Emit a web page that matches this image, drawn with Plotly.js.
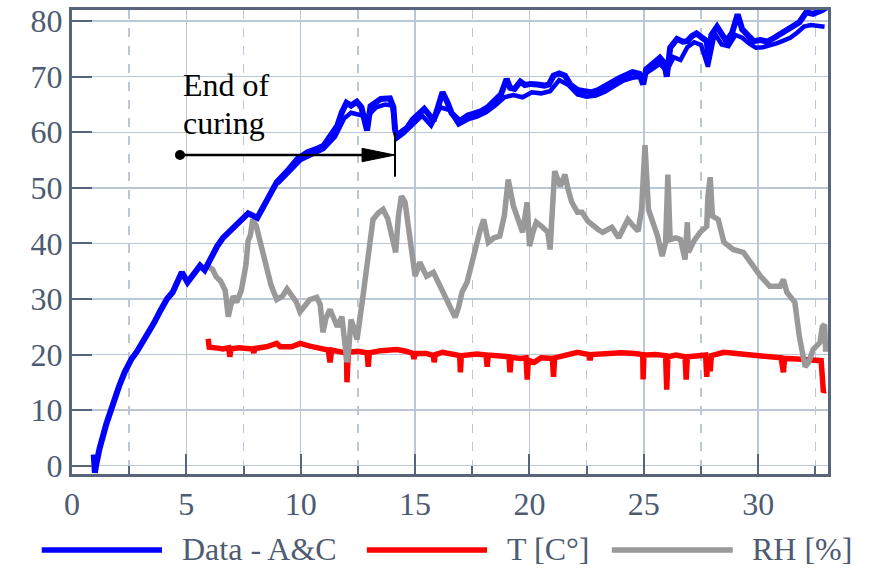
<!DOCTYPE html>
<html><head><meta charset="utf-8">
<script src="https://cdn.plot.ly/plotly-3.0.1.min.js"></script>
<style>html,body{margin:0;padding:0;background:#fff}</style>
</head><body><div id="chart" style="width:879px;height:569px"></div>
<script>
// Data - A&C (upper sensor trace)
const blueAx = [0.95, 1.0, 1.05, 1.2, 1.5, 1.8, 2.05, 2.3, 2.6, 2.85,
 3.1, 3.3, 3.6, 3.85, 4.15, 4.4, 4.6, 4.8, 5.05, 5.3,
 5.6, 5.8, 6.1, 6.35, 6.6, 6.85, 7.1, 7.4, 7.7, 8.1,
 8.3, 8.5, 8.75, 8.95, 9.2, 9.45, 9.85, 10.3, 10.7, 11.0,
 11.3, 11.6, 11.8, 12.0, 12.2, 12.45, 12.65, 12.8, 12.9, 13.05,
 13.3, 13.5, 13.9, 14.05, 14.12, 14.2, 14.45, 14.65, 14.9, 15.15,
 15.4, 15.6, 15.8, 16.0, 16.2, 16.4, 16.6, 16.95, 17.3, 17.6,
 17.9, 18.2, 18.45, 18.75, 19.0, 19.15, 19.35, 19.6, 19.8, 20.05,
 20.35, 20.65, 20.85, 21.05, 21.3, 21.55, 21.8, 22.1, 22.4, 22.7,
 23.0, 23.3, 23.6, 23.9, 24.2, 24.5, 24.8, 24.97, 25.1, 25.3,
 25.5, 25.7, 25.9, 26.0, 26.15, 26.45, 26.7, 26.9, 27.1, 27.3,
 27.55, 27.75, 27.82, 27.95, 28.2, 28.4, 28.6, 28.85, 29.1, 29.3,
 29.5, 29.8, 30.1, 30.4, 30.7, 31.1, 31.4, 31.8, 32.1, 32.4,
 32.8, 33.0];
const blueAy = [2, -1.3, 0, 3, 7.5, 11.5, 14.2, 16.8, 19.2, 20.6,
 22.3, 23.4, 25.8, 27.8, 30, 31.2, 33, 34.8, 33, 34.3,
 36, 35.2, 37.8, 39.5, 41, 42, 43.3, 44.4, 45.4, 44.6,
 46.2, 48, 49.5, 51, 52, 53.2, 55.2, 56.4, 57, 57.6,
 59.4, 61.2, 63.6, 65.3, 64.8, 65.5, 64.5, 62.5, 60.3, 64.7,
 65.4, 66, 66.1, 64.5, 60.5, 59.3, 60.2, 60.8, 62.3, 63.3,
 64.2, 63.2, 62, 64.5, 67.2, 65.5, 63.4, 62, 63, 63.4,
 63.8, 64.6, 65.5, 66.8, 69.6, 68, 67.8, 69.1, 68.5, 68.7,
 68.6, 68.4, 68.6, 70.2, 70.6, 70.2, 68.5, 67.6, 67.4, 67.2,
 67.6, 68.2, 69, 69.7, 70.2, 70.8, 70.5, 68.6, 71.3, 72,
 72.6, 73.4, 72.4, 70, 75.2, 76.8, 76.3, 76.4, 77.3, 77.8,
 77, 76.4, 73.2, 77.5, 79, 77.6, 76.4, 77.8, 81.2, 78.5,
 77.6, 76.4, 76.6, 76.3, 77, 78, 78.7, 79.8, 81.6, 81.3,
 82, 82.5];
// Data - A&C (lower sensor trace)
const blueCx = [9.0, 9.5, 10.0, 10.5, 11.0, 11.5, 11.9, 12.2, 12.5, 12.9,
 13.3, 13.7, 14.0, 14.2, 14.5, 14.9, 15.3, 15.7, 16.1, 16.5,
 16.9, 17.3, 17.7, 18.1, 18.5, 18.9, 19.3, 19.7, 20.1, 20.5,
 20.9, 21.3, 21.7, 22.1, 22.5, 22.9, 23.3, 23.7, 24.1, 24.5,
 24.9, 25.3, 25.7, 26.0, 26.3, 26.6, 26.9, 27.2, 27.5, 27.8,
 28.1, 28.4, 28.7, 29.0, 29.3, 29.6, 29.9, 30.2, 30.5, 30.8,
 31.1, 31.4, 31.7, 32.0, 32.3, 32.6, 32.9];
const blueCy = [50.8, 53, 55, 56, 57, 59.2, 62.5, 63.5, 63.2, 62.8,
 64.5, 65, 64.8, 58.9, 59.8, 61.5, 63, 61.2, 64.5, 64,
 61.4, 62.3, 62.8, 63.6, 64.8, 66.3, 66.7, 66.3, 67.2, 67,
 67.4, 69.4, 68.5, 66.8, 66.4, 66.6, 67.3, 68.3, 69.3, 69.8,
 70, 71.2, 72.3, 71, 73.5, 73, 75.3, 76.2, 75.7, 71.8,
 77.8, 75.8, 75.5, 77.5, 77, 76, 75.2, 75.3, 75.6, 76,
 76.5, 77, 77.9, 79, 79.3, 79.1, 79];
// T [C°]
const tempX = [5.95, 6.0, 6.3, 6.6, 6.85, 6.9, 6.95, 7.3, 7.9, 7.95,
 8.0, 8.5, 8.95, 9.1, 9.6, 9.97, 10.4, 10.97, 11.2, 11.28,
 11.35, 11.85, 12.0, 12.02, 12.08, 12.5, 12.9, 12.95, 13.0, 13.5,
 14.2, 14.6, 14.9, 14.95, 15.0, 15.5, 15.8, 15.83, 15.88, 16.2,
 16.6, 16.95, 16.98, 17.02, 17.7, 18.1, 18.15, 18.2, 18.6, 19.1,
 19.15, 19.2, 19.6, 19.85, 19.9, 19.95, 20.2, 20.5, 21.0, 21.05,
 21.1, 21.6, 22.1, 22.6, 22.65, 22.7, 23.2, 24.0, 24.6, 24.95,
 24.97, 25.0, 25.5, 25.95, 26.0, 26.05, 26.4, 26.8, 26.85, 26.9,
 27.4, 27.7, 27.75, 27.8, 27.9, 27.95, 28.5, 29.0, 29.6, 30.3,
 31.0, 31.1, 31.15, 31.7, 32.2, 32.6, 32.75, 32.85, 32.9];
const tempY = [22.8, 21.3, 21.2, 21.0, 21.2, 19.6, 21.0, 21.2, 21.0, 20.3,
 21.1, 21.4, 22.0, 21.4, 21.4, 22.0, 21.5, 21.1, 20.8, 18.6,
 20.8, 20.4, 20.2, 15.0, 20.4, 20.6, 20.3, 17.8, 20.3, 20.7,
 20.9, 20.6, 20.2, 19.2, 20.2, 20.2, 19.8, 18.6, 20.0, 20.4,
 20.2, 19.8, 16.8, 19.8, 20.1, 19.9, 17.8, 19.9, 19.8, 19.6,
 16.8, 19.5, 19.3, 19.4, 15.5, 19.0, 18.6, 19.4, 19.3, 16.0,
 19.4, 19.8, 20.4, 20.0, 19.0, 20.0, 20.2, 20.3, 20.2, 20.0,
 15.5, 19.9, 20.0, 19.8, 13.7, 19.6, 19.9, 19.6, 15.5, 19.6,
 19.8, 19.9, 16.0, 19.5, 17.0, 19.8, 20.4, 20.2, 20.0, 19.7,
 19.4, 16.8, 19.3, 19.2, 19.1, 19.1, 18.9, 13.2, 13.5];
// RH [%]
const rhX = [5.95, 6.15, 6.3, 6.5, 6.7, 6.83, 6.95, 7.05, 7.2, 7.4,
 7.6, 7.7, 7.8, 7.9, 8.05, 8.2, 8.45, 8.7, 8.95, 9.2,
 9.4, 9.6, 9.8, 9.97, 10.2, 10.4, 10.7, 10.85, 10.97, 11.1,
 11.28, 11.45, 11.6, 11.8, 11.95, 12.02, 12.1, 12.2, 12.35, 12.46,
 12.7, 12.95, 13.16, 13.4, 13.6, 13.8, 13.9, 14.05, 14.15, 14.27,
 14.4, 14.56, 14.7, 14.85, 15.0, 15.2, 15.35, 15.5, 15.8, 16.0,
 16.2, 16.5, 16.75, 16.9, 17.05, 17.27, 17.5, 17.7, 17.85, 18.0,
 18.2, 18.45, 18.7, 18.9, 19.07, 19.3, 19.5, 19.7, 19.9, 20.0,
 20.15, 20.3, 20.55, 20.8, 20.9, 21.1, 21.35, 21.55, 21.7, 21.85,
 22.1, 22.3, 22.55, 22.8, 23.0, 23.2, 23.4, 23.6, 23.9, 24.1,
 24.3, 24.5, 24.75, 24.9, 25.05, 25.2, 25.4, 25.6, 25.8, 25.95,
 26.05, 26.15, 26.4, 26.6, 26.8, 26.9, 26.95, 27.2, 27.46, 27.75,
 27.8, 27.9, 28.0, 28.25, 28.5, 28.9, 29.35, 29.8, 30.1, 30.5,
 30.96, 31.1, 31.25, 31.6, 31.8, 32.05, 32.2, 32.4, 32.7, 32.8,
 32.9, 32.95];
const rhY = [35.9, 35.3, 34, 33.2, 31.5, 26.8, 29, 30.5, 29.4, 31.5,
 36, 40.5, 41.5, 44.3, 43.2, 40.5, 35.9, 32.5, 29.9, 30.5,
 31.8, 30.8, 29.5, 27.7, 29, 29.9, 30.3, 29, 24, 26.5,
 28.1, 26.5, 25, 26.8, 22, 18.6, 21, 26.3, 24.5, 22.7,
 29.9, 38.9, 44.3, 45.5, 46.1, 44.5, 42.5, 40, 38.4, 44.9,
 48.5, 47.4, 43.1, 37.5, 34.1, 36.6, 35.5, 34.1, 34.8, 33,
 31.2, 29, 26.7, 28.5, 31.2, 33, 37, 40.7, 42.5, 44.3,
 40.2, 41, 41.3, 45, 51.5, 46.7, 44, 42, 47.4, 39.5,
 42, 43.8, 43, 42, 38.9, 53, 50.3, 52.4, 49.5, 47.4,
 45.6, 45.6, 44, 43.1, 42.5, 42, 42.6, 42.9, 41, 42.5,
 44.3, 43.3, 42.2, 46.1, 57.7, 46.1, 43.5, 41.3, 37.7, 40.2,
 52.4, 40.7, 41, 40.7, 37.1, 43.8, 38.4, 40.5, 42, 43.1,
 48.5, 51.9, 44.9, 44.3, 40.2, 38.9, 38.4, 35.9, 34.1, 32.3,
 32.3, 33.5, 31.2, 29.4, 23.2, 17.8, 18.6, 20.9, 22.2, 25,
 25.4, 20.5];

const xTickVals = [0, 5, 10, 15, 20, 25, 30];
const yTickVals = [0, 10, 20, 30, 40, 50, 60, 70, 80];
const legendNames = ['Data - A&C', 'T [C°]', 'RH [%]'];
const seriesColors = ['#0000ff', '#ff0000', '#999999'];

const axisColor = '#56657c';
const gridColor = '#bcc7d6';
const txtColor = '#4d5b72';
const serif = '"Liberation Serif", "Times New Roman", serif';
const tickFont = {family: serif, size: 32, color: txtColor};

const traces = [
  {x: tempX, y: tempY, type: 'scatter', mode: 'lines', name: legendNames[1],
   line: {color: seriesColors[1], width: 5.5}},
  {x: rhX, y: rhY, type: 'scatter', mode: 'lines', name: legendNames[2],
   line: {color: seriesColors[2], width: 5.5}},
  {x: blueCx, y: blueCy, type: 'scatter', mode: 'lines', name: legendNames[0],
   line: {color: seriesColors[0], width: 4.5}},
  {x: blueAx, y: blueAy, type: 'scatter', mode: 'lines', name: legendNames[0],
   line: {color: seriesColors[0], width: 6}}
];

// hand-drawn legend placement in paper units
const legY = -0.164;
const legItems = [
  {x0: -0.040, x1: 0.119, tx: 0.143},
  {x0: 0.390, x1: 0.549, tx: 0.573},
  {x0: 0.714, x1: 0.874, tx: 0.897}
];

const shapes = [
  {type: 'line', xref: 'x', yref: 'y', x0: 4.72, x1: 13.0, y0: 55.9, y1: 55.9,
   line: {color: '#000', width: 2.5}},
  {type: 'path', xref: 'x', yref: 'y', path: 'M 12.68 57.1 L 14.12 55.9 L 12.68 54.7 Z',
   fillcolor: '#000', line: {color: '#000', width: 1}},
  {type: 'line', xref: 'x', yref: 'y', x0: 14.12, x1: 14.12, y0: 52, y1: 60,
   line: {color: '#000', width: 2}},
  {type: 'circle', xref: 'x', yref: 'y', xsizemode: 'pixel', ysizemode: 'pixel',
   xanchor: 4.72, yanchor: 55.9, x0: -5, x1: 5, y0: -5, y1: 5,
   fillcolor: '#000', line: {color: '#000', width: 0}}
];
legItems.forEach((it, i) => shapes.push({
  type: 'line', xref: 'paper', yref: 'paper', x0: it.x0, x1: it.x1, y0: legY, y1: legY,
  line: {color: seriesColors[i], width: 5.5}
}));

const annotations = [
  {xref: 'x', yref: 'y', x: 4.75, y: 68.5, text: 'End of', showarrow: false,
   xanchor: 'left', yanchor: 'middle', font: {family: serif, size: 32, color: '#000'}},
  {xref: 'x', yref: 'y', x: 4.75, y: 61.6, text: 'curing', showarrow: false,
   xanchor: 'left', yanchor: 'middle', font: {family: serif, size: 32, color: '#000'}}
];
legItems.forEach((it, i) => annotations.push({
  xref: 'paper', yref: 'paper', x: it.tx, y: legY + 0.002, text: legendNames[i],
  showarrow: false, xanchor: 'left', yanchor: 'middle',
  font: {family: serif, size: 32, color: txtColor}
}));

const layout = {
  width: 879, height: 569,
  margin: {l: 72, r: 51, t: 10, b: 95},
  paper_bgcolor: '#fff', plot_bgcolor: '#fff',
  showlegend: false,
  font: {family: serif, color: txtColor},
  xaxis: {
    range: [0, 33.05], tickmode: 'array', tickvals: xTickVals,
    showgrid: true, gridcolor: gridColor, gridwidth: 1.5, zeroline: false,
    showline: true, linecolor: axisColor, linewidth: 3, mirror: true,
    ticks: 'inside', ticklen: 20, tickwidth: 2, tickcolor: axisColor, tickfont: tickFont,
    minor: {tick0: 2.5, dtick: 5, showgrid: true, gridcolor: gridColor, gridwidth: 1.5,
            griddash: 'dash', ticks: 'inside', ticklen: 8, tickwidth: 2, tickcolor: axisColor}
  },
  yaxis: {
    range: [-1.5, 82], tickmode: 'array', tickvals: yTickVals,
    showgrid: true, gridcolor: gridColor, gridwidth: 1.5, zeroline: false,
    showline: true, linecolor: axisColor, linewidth: 3, mirror: true,
    ticks: 'inside', ticklen: 20, tickwidth: 2, tickcolor: axisColor, tickfont: tickFont
  },
  shapes: shapes,
  annotations: annotations
};

Plotly.newPlot('chart', traces, layout, {displayModeBar: false, staticPlot: true});
</script></body></html>
